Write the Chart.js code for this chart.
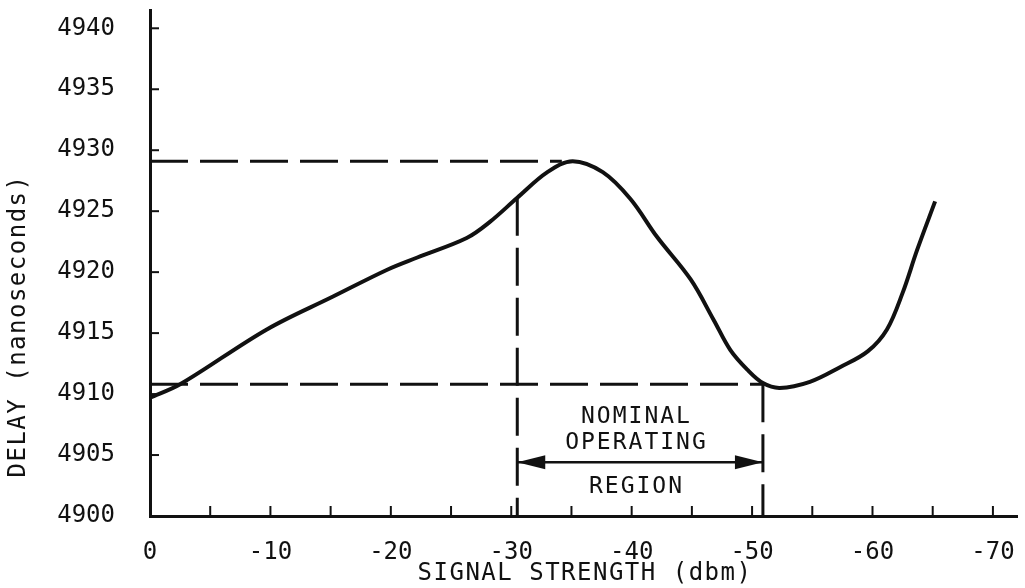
<!DOCTYPE html>
<html>
<head>
<meta charset="utf-8">
<script src="https://cdn.jsdelivr.net/npm/chart.js@4/dist/chart.umd.min.js"></script>
<style>
  body { margin: 0; background: #fff; }
  canvas { display: block; }
</style>
</head>
<body>
<canvas id="chart-delay" width="1025" height="588"></canvas>
<script>
const signalDbm = [0, -2.5, -9.7, -15.2, -19.7, -22.2, -26.3, -28.2, -30.5, -33.0, -35.1, -37.6, -39.9, -42.1, -44.9, -46.8, -48.2, -49.6, -50.9, -52.3, -54.8, -57.3, -59.6, -61.2, -62.5, -63.7, -65.2];
const delayNs = [4909.7, 4910.8, 4915.3, 4918.0, 4920.2, 4921.2, 4922.8, 4924.1, 4926.1, 4928.2, 4929.1, 4928.2, 4926.0, 4922.9, 4919.4, 4916.1, 4913.6, 4912.0, 4910.9, 4910.5, 4911.0, 4912.2, 4913.5, 4915.3, 4918.3, 4921.8, 4925.8];

const xTickVals = [0, -5, -10, -15, -20, -25, -30, -35, -40, -45, -50, -55, -60, -65, -70];
const yTickVals = [4900, 4905, 4910, 4915, 4920, 4925, 4930, 4935, 4940];

// guide lines
const peakDelay = 4929.1;
const peakSignal = -34.2;
const floorDelay = 4910.8;
const regionStart = -30.5;
const regionStartDelay = 4926.1;
const regionEnd = -50.9;
const arrowDelay = 4904.4;

const regionLabels = ['NOMINAL', 'OPERATING', 'REGION'];
const regionLabelDelay = [4908.1, 4906.0, 4902.4];
const regionLabelSignal = -40.4;

const FONT = '"DejaVu Sans Mono", monospace';
const dash = [38, 12];

const curve = signalDbm.map((x, i) => ({ x: x, y: delayNs[i] }));

function guide(points) {
    return {
        data: points,
        borderColor: '#111',
        borderWidth: 3,
        borderDash: dash,
        pointRadius: 0,
        tension: 0
    };
}

const extras = {
    id: 'extras',
    afterDraw(chart) {
        const ctx = chart.ctx;
        const xs = chart.scales.x;
        const ys = chart.scales.y;
        const area = chart.chartArea;
        ctx.save();
        ctx.strokeStyle = '#111';
        ctx.fillStyle = '#111';
        ctx.lineWidth = 2;

        // tick marks point into the plot
        xTickVals.forEach(v => {
            if (v === 0) return;
            const px = xs.getPixelForValue(v);
            ctx.beginPath();
            ctx.moveTo(px, area.bottom);
            ctx.lineTo(px, area.bottom - 10);
            ctx.stroke();
        });
        yTickVals.forEach(v => {
            if (v === 4900) return;
            const py = ys.getPixelForValue(v);
            ctx.beginPath();
            ctx.moveTo(area.left, py);
            ctx.lineTo(area.left + 9, py);
            ctx.stroke();
        });

        // arrow heads on the operating region line
        const meta = chart.getDatasetMeta(5);
        const a = meta.data[0], b = meta.data[1];
        [[a, 1], [b, -1]].forEach(([p, dir]) => {
            ctx.beginPath();
            ctx.moveTo(p.x, p.y);
            ctx.lineTo(p.x + dir * 28, p.y - 7);
            ctx.lineTo(p.x + dir * 28, p.y + 7);
            ctx.closePath();
            ctx.fill();
        });

        // region text
        ctx.font = '23px ' + FONT;
        ctx.letterSpacing = '2px';
        ctx.textAlign = 'center';
        ctx.textBaseline = 'middle';
        regionLabels.forEach((t, i) => {
            ctx.fillText(t, xs.getPixelForValue(regionLabelSignal), ys.getPixelForValue(regionLabelDelay[i]));
        });

        // axis titles
        ctx.font = '24px ' + FONT;
        ctx.letterSpacing = '1.5px';
        ctx.fillText('SIGNAL STRENGTH (dbm)', 585, 574);
        ctx.translate(19, 326);
        ctx.rotate(-Math.PI / 2);
        ctx.fillText('DELAY (nanoseconds)', 0, 0);
        ctx.restore();
    }
};

new Chart(document.getElementById('chart-delay').getContext('2d'), {
    type: 'line',
    data: {
        datasets: [
            {
                data: curve,
                borderColor: '#111',
                borderWidth: 4,
                pointRadius: 0,
                tension: 0.35
            },
            guide([{ x: 0, y: peakDelay }, { x: peakSignal, y: peakDelay }]),
            guide([{ x: 0, y: floorDelay }, { x: regionEnd, y: floorDelay }]),
            guide([{ x: regionStart, y: regionStartDelay }, { x: regionStart, y: 4900 }]),
            guide([{ x: regionEnd, y: floorDelay }, { x: regionEnd, y: 4900 }]),
            {
                data: [{ x: regionStart, y: arrowDelay }, { x: regionEnd, y: arrowDelay }],
                borderColor: '#111',
                borderWidth: 2.5,
                pointRadius: 0
            }
        ]
    },
    options: {
        responsive: false,
        animation: false,
        layout: { padding: { top: 10, right: 8, left: 0, bottom: 0 } },
        plugins: { legend: { display: false }, tooltip: { enabled: false } },
        scales: {
            x: {
                type: 'linear',
                reverse: true,
                min: -72,
                max: 0,
                afterBuildTicks: s => { s.ticks = xTickVals.map(v => ({ value: v })); },
                afterFit: s => { s.height = 72; s.paddingLeft = 0; s.paddingRight = 0; },
                grid: { display: false, drawTicks: false },
                border: { display: true, color: '#111', width: 3 },
                ticks: {
                    color: '#111',
                    padding: 22,
                    maxRotation: 0,
                    autoSkip: false,
                    font: { family: FONT, size: 24 },
                    callback: v => (v % 10 === 0 ? String(v) : '')
                }
            },
            y: {
                min: 4900,
                max: 4941.5,
                afterBuildTicks: s => { s.ticks = yTickVals.map(v => ({ value: v })); },
                afterFit: s => { s.width = 150; s.paddingTop = 0; s.paddingBottom = 0; },
                grid: { display: false, drawTicks: false },
                border: { display: true, color: '#111', width: 3 },
                ticks: {
                    color: '#111',
                    padding: 35,
                    font: { family: FONT, size: 24 },
                    callback: v => String(v)
                }
            }
        }
    },
    plugins: [extras]
});
</script>
</body>
</html>
